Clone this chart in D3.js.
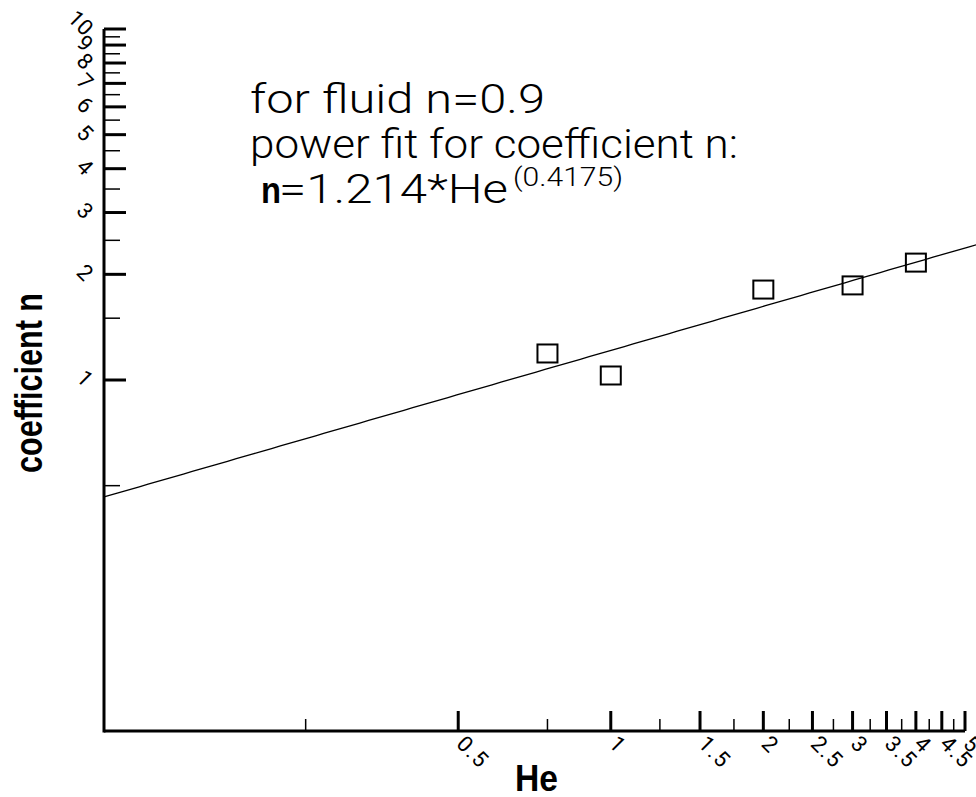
<!DOCTYPE html>
<html>
<head>
<meta charset="utf-8">
<script src="https://d3js.org/d3.v7.min.js"></script>
<style>
  html, body { margin: 0; padding: 0; background: #fff; overflow: hidden; }
  svg { display: block; }
  .thin { font-family: Roboto, "Liberation Sans", sans-serif; font-weight: 300; }
  .tick { font-family: Roboto, "Liberation Sans", sans-serif; font-weight: 400; }
  .bold { font-family: "Liberation Sans", Arial, sans-serif; font-weight: bold; }
</style>
</head>
<body>
<div id="chart"></div>
<script>
// measured points (He, coefficient n)
const heValues = [0.75, 1.0, 2.0, 3.0, 4.0];
const coeffValues = [1.19, 1.03, 1.81, 1.86, 2.16];

// power fit n = a * He^b
const fitA = 1.214;
const fitB = 0.4175;
const fitRange = [0.1, 5.5];

const xMajorTicks = [0.5, 1, 1.5, 2, 2.5, 3, 3.5, 4, 4.5, 5];
const xMinorTicks = [0.25, 0.75, 1.25, 1.75, 2.25, 2.75, 3.25, 3.75, 4.25, 4.75];
const yMajorTicks = [1, 2, 3, 4, 5, 6, 7, 8, 9, 10];
const yMinorTicks = [0.5, 1.5, 2.5, 3.5, 4.5, 5.5, 6.5, 7.5, 8.5, 9.5];

const annotationLines = ['for fluid n=0.9', 'power fit for coefficient n:'];

let [width, height] = [976, 797];

let svg = d3.select('#chart').append('svg')
  .attr('width', width)
  .attr('height', height);

let x = d3.scaleLog().domain([0.1, 5]).range([104, 965]);
let y = d3.scaleLog().domain([0.1, 10]).range([731, 29]);

let x0 = x.range()[0], y0 = y.range()[0];

// fit line
let fitPts = d3.range(0, 101).map(i => {
  let he = fitRange[0] * Math.pow(fitRange[1] / fitRange[0], i / 100);
  return [he, fitA * Math.pow(he, fitB)];
});
svg.append('path')
  .datum(fitPts)
  .attr('d', d3.line().x(d => x(d[0])).y(d => y(d[1])))
  .attr('fill', 'none')
  .attr('stroke', '#000')
  .attr('stroke-width', 1.3);

// data squares
svg.selectAll('rect.pt')
  .data(heValues.map((h, i) => [h, coeffValues[i]]))
  .enter()
  .append('rect')
  .attr('class', 'pt')
  .attr('x', d => x(d[0]) - 10)
  .attr('y', d => y(d[1]) - 9)
  .attr('width', 20)
  .attr('height', 18)
  .attr('fill', 'none')
  .attr('stroke', '#000')
  .attr('stroke-width', 2);

// axes lines
svg.append('line')
  .attr('x1', x0).attr('x2', x.range()[1])
  .attr('y1', y0).attr('y2', y0)
  .attr('stroke', '#000').attr('stroke-width', 3);
svg.append('line')
  .attr('x1', x0).attr('x2', x0)
  .attr('y1', y0 + 1.5).attr('y2', y.range()[1])
  .attr('stroke', '#000').attr('stroke-width', 3);

// x ticks (inward)
svg.selectAll('line.xmaj').data(xMajorTicks).enter().append('line')
  .attr('x1', d => x(d)).attr('x2', d => x(d))
  .attr('y1', y0).attr('y2', y0 - 20)
  .attr('stroke', '#000').attr('stroke-width', 3);
svg.selectAll('line.xmin').data(xMinorTicks).enter().append('line')
  .attr('x1', d => x(d)).attr('x2', d => x(d))
  .attr('y1', y0).attr('y2', y0 - 12)
  .attr('stroke', '#000').attr('stroke-width', 1.5);

// y ticks (inward)
svg.selectAll('line.ymaj').data(yMajorTicks).enter().append('line')
  .attr('x1', x0).attr('x2', x0 + 22)
  .attr('y1', d => y(d)).attr('y2', d => y(d))
  .attr('stroke', '#000').attr('stroke-width', 3);
svg.selectAll('line.ymin').data(yMinorTicks).enter().append('line')
  .attr('x1', x0).attr('x2', x0 + 16)
  .attr('y1', d => y(d)).attr('y2', d => y(d))
  .attr('stroke', '#000').attr('stroke-width', 1.5);

// tick labels, rotated like the original
svg.selectAll('text.xl').data(xMajorTicks).enter().append('text')
  .attr('class', 'tick')
  .attr('transform', d => `translate(${x(d) - 3},${y0 + 14}) rotate(45)`)
  .attr('font-size', 22)
  .attr('letter-spacing', 1.5)
  .text(d => d3.format('~g')(d));

svg.selectAll('text.yl').data(yMajorTicks).enter().append('text')
  .attr('class', 'tick')
  .attr('transform', d => `translate(${x0 - 20},${y(d) + 8}) rotate(45)`)
  .attr('text-anchor', 'end')
  .attr('font-size', 22)
  .text(d => d);

// axis titles
svg.append('text')
  .attr('class', 'bold')
  .attr('x', 515).attr('y', 791)
  .attr('font-size', 37)
  .attr('textLength', 43)
  .attr('lengthAdjust', 'spacingAndGlyphs')
  .text('He');

svg.append('text')
  .attr('class', 'bold')
  .attr('transform', 'translate(42,473) rotate(-90)')
  .attr('font-size', 38)
  .attr('textLength', 180)
  .attr('lengthAdjust', 'spacingAndGlyphs')
  .text('coefficient n');

// annotation
svg.append('text')
  .attr('class', 'thin')
  .attr('x', 250).attr('y', 113)
  .attr('font-size', 40)
  .attr('textLength', 295)
  .attr('lengthAdjust', 'spacingAndGlyphs')
  .text(annotationLines[0]);
svg.append('text')
  .attr('class', 'thin')
  .attr('x', 250).attr('y', 158)
  .attr('font-size', 40)
  .attr('textLength', 488)
  .attr('lengthAdjust', 'spacingAndGlyphs')
  .text(annotationLines[1]);

svg.append('text')
  .attr('class', 'bold')
  .attr('x', 261).attr('y', 203)
  .attr('font-size', 36)
  .attr('textLength', 20)
  .attr('lengthAdjust', 'spacingAndGlyphs')
  .text('n');
svg.append('text')
  .attr('class', 'thin')
  .attr('x', 279).attr('y', 203)
  .attr('font-size', 40)
  .attr('textLength', 229)
  .attr('lengthAdjust', 'spacingAndGlyphs')
  .text('=' + fitA + '*He');
svg.append('text')
  .attr('class', 'thin')
  .attr('x', 513).attr('y', 186)
  .attr('font-size', 25)
  .attr('textLength', 110)
  .attr('lengthAdjust', 'spacingAndGlyphs')
  .text('(' + fitB + ')');
</script>
</body>
</html>
